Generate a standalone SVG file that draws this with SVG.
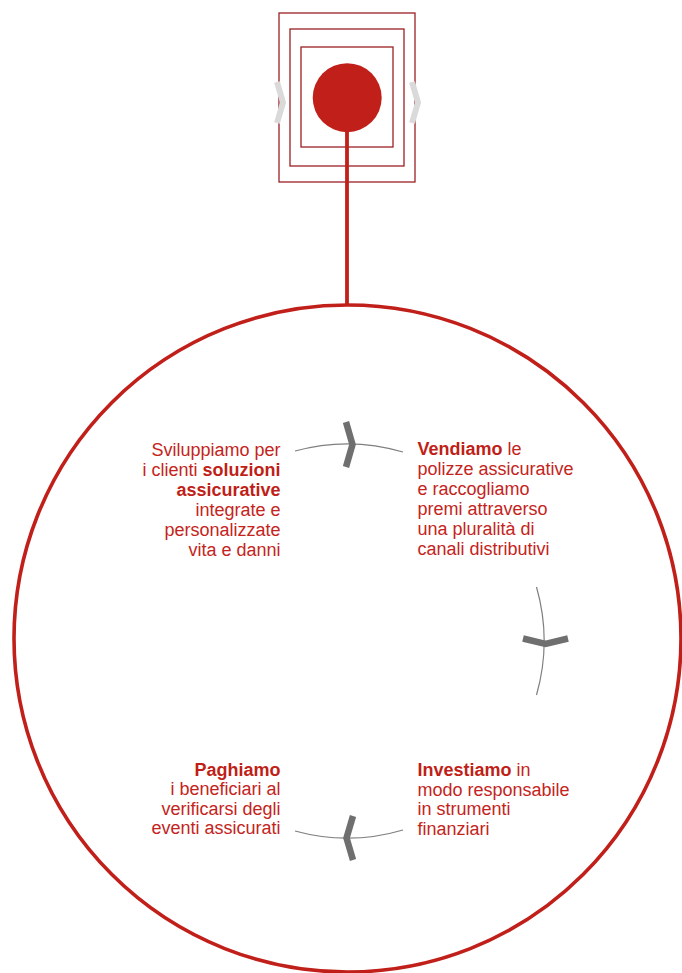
<svg xmlns="http://www.w3.org/2000/svg" width="682" height="973" viewBox="0 0 682 973">
<style>
.t{font-family:"Liberation Sans",Arial,sans-serif;font-size:18px;fill:#c4241c;}
.b{font-weight:bold;fill:#bf1f18;}
.r{text-anchor:end;}
.frame{fill:none;stroke:#9c2024;stroke-width:1.3;}
.arc{fill:none;stroke:#7f7f7f;stroke-width:1.2;}
.chev{fill:none;stroke:#6f6f6f;stroke-width:6.5;stroke-linejoin:miter;stroke-linecap:butt;}
.chevl{fill:none;stroke:#dadada;stroke-width:6;stroke-linejoin:miter;stroke-linecap:butt;}
</style>
<rect width="682" height="973" fill="#ffffff"/>
<g id="logo">
  <rect class="frame" x="279" y="13" width="136" height="169"/>
  <rect class="frame" x="290" y="29" width="114" height="137"/>
  <rect class="frame" x="301" y="47" width="92" height="100" stroke="#b8282a"/>
  <polyline class="chevl" points="277,82 283,102.5 277,123"/>
  <polyline class="chevl" points="412,82 418,102.5 412,123"/>
  <circle cx="347.2" cy="97.7" r="34.5" fill="#c1201a"/>
</g>
<g id="connectors">
  <line x1="347" y1="128" x2="347" y2="306" stroke="#c1201a" stroke-width="3.8"/>
  <path class="arc" d="M295,451 A197,197 0 0 1 403,452"/>
  <path class="arc" d="M536.5,587 A197,197 0 0 1 536.5,695"/>
  <path class="arc" d="M403,830 A197,197 0 0 1 295,831"/>
  <polyline class="chev" points="346,422 352.5,444.5 346,467"/>
  <polyline class="chev" points="523,638.5 545.5,644 568,638.5"/>
  <polyline class="chev" points="353,816 346.5,838 353,860"/>
</g>
<g id="cycle">
  <circle cx="347.5" cy="638.5" r="333.5" fill="none" stroke="#c1201a" stroke-width="3.6"/>
</g>
<g id="sviluppiamo">
  <text class="t r" x="280.5" y="456">Sviluppiamo per</text>
  <text class="t r" x="280.5" y="476">i clienti <tspan class="b">soluzioni</tspan></text>
  <text class="t r b" x="280.5" y="496">assicurative</text>
  <text class="t r" x="280.5" y="516">integrate e</text>
  <text class="t r" x="280.5" y="536">personalizzate</text>
  <text class="t r" x="280.5" y="556">vita e danni</text>
</g>
<g id="vendiamo">
  <text class="t" x="417.5" y="455"><tspan class="b">Vendiamo</tspan> le</text>
  <text class="t" x="417.5" y="475">polizze assicurative</text>
  <text class="t" x="417.5" y="495">e raccogliamo</text>
  <text class="t" x="417.5" y="515">premi attraverso</text>
  <text class="t" x="417.5" y="535">una pluralità di</text>
  <text class="t" x="417.5" y="555">canali distributivi</text>
</g>
<g id="investiamo">
  <text class="t" x="417.5" y="776"><tspan class="b">Investiamo</tspan> in</text>
  <text class="t" x="417.5" y="795.5">modo responsabile</text>
  <text class="t" x="417.5" y="815">in strumenti</text>
  <text class="t" x="417.5" y="834.5">finanziari</text>
</g>
<g id="paghiamo">
  <text class="t r b" x="280.5" y="775.5">Paghiamo</text>
  <text class="t r" x="280.5" y="795">i beneficiari al</text>
  <text class="t r" x="280.5" y="814.5">verificarsi degli</text>
  <text class="t r" x="280.5" y="834">eventi assicurati</text>
</g>
</svg>
